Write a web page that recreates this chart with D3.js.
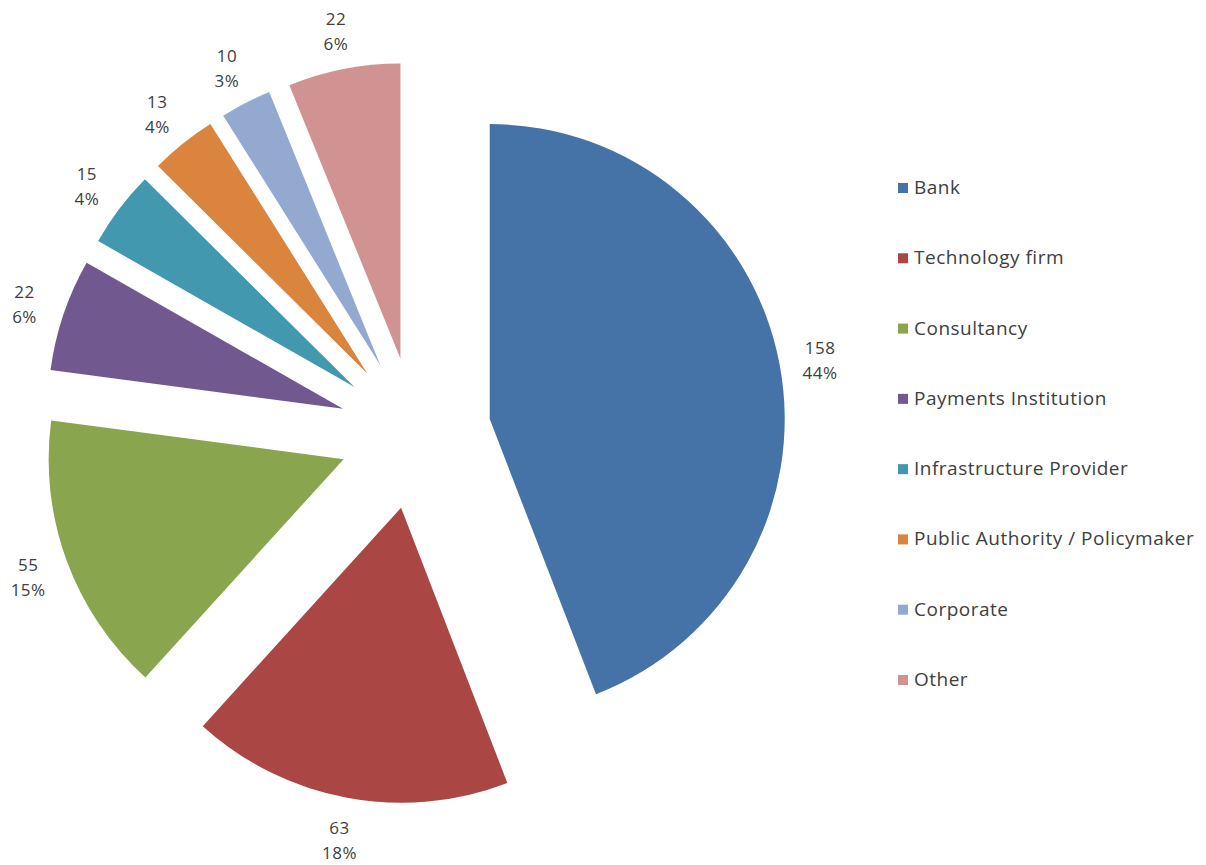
<!DOCTYPE html>
<html>
<head>
<meta charset="utf-8">
<script src="https://cdn.jsdelivr.net/npm/d3@7"></script>
<style>
	body { margin: 0; background: #fff; }
	text { font-family: "Open Sans", Lato, sans-serif; fill: #404040; }
</style>
</head>
<body>
<div class="chart"></div>
<script>

const categories = ['Bank', 'Technology firm', 'Consultancy', 'Payments Institution',
	'Infrastructure Provider', 'Public Authority / Policymaker', 'Corporate', 'Other'];
const counts = [158, 63, 55, 22, 15, 13, 10, 22];
const colors = ['#4572A7', '#AA4643', '#89A54E', '#71588F', '#4198AF', '#DB843D', '#93A9CF', '#D19392'];

const width = 1206;
const height = 865;
const cx = 415;
const cy = 433;
const radius = 295;
const explode = 76;
const labelRadius = 412;

const total = d3.sum(counts);
const data = categories.map((c, i) => ({ name: c, value: counts[i], color: colors[i] }));

const svg = d3.select('.chart').append('svg')
	.attr('width', width)
	.attr('height', height);

const pie = d3.pie()
	.value(d => d.value)
	.sort(null);

const arc = d3.arc()
	.innerRadius(0)
	.outerRadius(radius);

const arcs = pie(data);

function midAngle(d) {
	return (d.startAngle + d.endAngle) / 2;
}

const g = svg.append('g')
	.attr('transform', `translate(${cx},${cy})`);

g.selectAll('.slice')
	.data(arcs)
	.enter()
	.append('path')
	.attr('class', 'slice')
	.attr('d', arc)
	.attr('fill', d => d.data.color)
	.attr('transform', function(d) {
		const a = midAngle(d);
		return `translate(${Math.sin(a) * explode},${-Math.cos(a) * explode})`;
	});

const labels = g.selectAll('.lbl')
	.data(arcs)
	.enter()
	.append('text')
	.attr('class', 'lbl')
	.attr('text-anchor', 'middle')
	.attr('font-size', 17)
	.attr('letter-spacing', 0.5)
	.attr('x', d => Math.sin(midAngle(d)) * labelRadius)
	.attr('y', d => -Math.cos(midAngle(d)) * labelRadius);

labels.append('tspan')
	.attr('x', d => Math.sin(midAngle(d)) * labelRadius)
	.attr('dy', -4)
	.text(d => d.data.value);

labels.append('tspan')
	.attr('x', d => Math.sin(midAngle(d)) * labelRadius)
	.attr('dy', 25)
	.text(d => `${Math.round(d.data.value / total * 100)}%`);

const legendY = d3.scalePoint()
	.domain(categories)
	.range([188, 680]);

const legend = svg.selectAll('.legend')
	.data(data)
	.enter()
	.append('g')
	.attr('class', 'legend')
	.attr('transform', d => `translate(898,${legendY(d.name)})`);

legend.append('rect')
	.attr('x', 0)
	.attr('y', -5)
	.attr('width', 10)
	.attr('height', 10)
	.attr('fill', d => d.color);

legend.append('text')
	.attr('x', 16)
	.attr('dy', 6)
	.attr('font-size', 19)
	.attr('letter-spacing', 0.5)
	.text(d => d.name);

</script>
</body>
</html>
